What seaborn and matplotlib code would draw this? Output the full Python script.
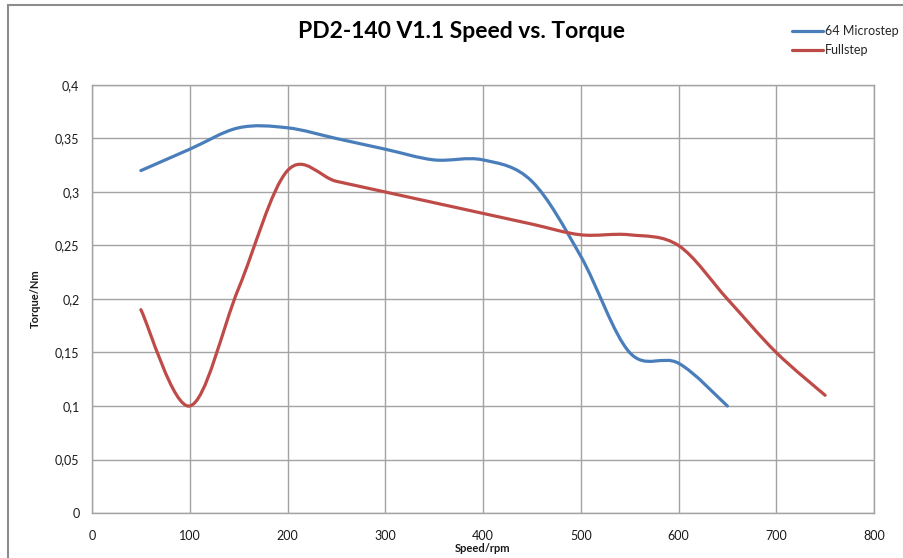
import numpy as np
import pandas as pd
import matplotlib
matplotlib.use("Agg")
import matplotlib.pyplot as plt
from matplotlib.path import Path
from matplotlib.patches import PathPatch, Rectangle
from matplotlib.ticker import FuncFormatter, MultipleLocator
import seaborn as sns

# data
micro_speed = [50, 100, 150, 200, 250, 300, 350, 400, 450, 500, 550, 600, 650]
micro_torque = [0.32, 0.34, 0.36, 0.36, 0.35, 0.34, 0.33, 0.33, 0.31, 0.24, 0.15, 0.14, 0.10]
full_speed = [50, 100, 150, 200, 250, 300, 350, 400, 450, 500, 550, 600, 650, 700, 750]
full_torque = [0.19, 0.10, 0.21, 0.32, 0.31, 0.30, 0.29, 0.28, 0.27, 0.26, 0.26, 0.25, 0.20, 0.15, 0.11]
series_names = ["64 Microstep", "Fullstep"]
series_colors = ["#4a7ebb", "#be4b48"]

title = "PD2-140 V1.1 Speed vs. Torque"
x_label = "Speed/rpm"
y_label = "Torque/Nm"


def smooth_path(xy):
    """Excel-like smoothed line: cubic bezier segments through every point."""
    pts = np.asarray(xy, dtype=float)
    n = len(pts)
    verts = [pts[0]]
    codes = [Path.MOVETO]
    for i in range(n - 1):
        p0 = pts[max(i - 1, 0)]
        p1 = pts[i]
        p2 = pts[i + 1]
        p3 = pts[min(i + 2, n - 1)]
        verts += [p1 + (p2 - p0) / 6, p2 - (p3 - p1) / 6, p2]
        codes += [Path.CURVE4] * 3
    return Path(verts, codes)


df = pd.concat([
    pd.DataFrame({"speed": micro_speed, "torque": micro_torque, "series": series_names[0]}),
    pd.DataFrame({"speed": full_speed, "torque": full_torque, "series": series_names[1]}),
], ignore_index=True)

sns.set_theme(style="whitegrid")
plt.rcParams["font.family"] = ["Lato", "DejaVu Sans"]

fig = plt.figure(figsize=(9.04, 5.58), dpi=100)
fig.patch.set_facecolor("white")
ax = fig.add_axes([92 / 904, 1 - 513 / 558, 782 / 904, 428 / 558])

sns.lineplot(data=df, x="speed", y="torque", hue="series", hue_order=series_names,
             palette=series_colors, linewidth=2.3, ax=ax, sort=False)

# swap the straight polylines for smoothed curves
for line in list(ax.lines):
    if len(line.get_xydata()) < 2:
        continue
    patch = PathPatch(smooth_path(line.get_xydata()), facecolor="none",
                      edgecolor=line.get_color(), lw=2.3, capstyle="round",
                      joinstyle="round", zorder=3)
    ax.add_patch(patch)
    line.remove()

ax.set_xlim(0, 800)
ax.set_ylim(0, 0.4)
ax.xaxis.set_major_locator(MultipleLocator(100))
ax.yaxis.set_major_locator(MultipleLocator(0.05))
ax.yaxis.set_major_formatter(FuncFormatter(lambda v, p: f"{v:.2f}".rstrip("0").rstrip(".").replace(".", ",")))

grid_col = "#a3a3a3"
ax.grid(True, color=grid_col, linewidth=1.0)
for sp in ax.spines.values():
    sp.set_color(grid_col)
    sp.set_linewidth(1.0)
ax.tick_params(axis="both", length=0, labelsize=9, colors="#1a1a1a")
ax.tick_params(axis="y", pad=9)
ax.tick_params(axis="x", pad=12)

ax.set_xlabel(x_label, fontsize=8, fontweight="bold", color="#1a1a1a")
ax.set_ylabel(y_label, fontsize=8, fontweight="bold", color="#1a1a1a")
ax.xaxis.set_label_coords(0.5, -0.070)
ax.yaxis.set_label_coords(-0.066, 0.5)

fig.text(461 / 904, 1 - 31 / 558, title, ha="center", va="center",
         fontsize=16.5, fontweight="bold", color="black")

sns.move_legend(ax, "upper left", bbox_to_anchor=((792 - 92) / 782, (513 - 25) / 428),
                frameon=False, title=None, fontsize=9, handlelength=2.5,
                handletextpad=0.15, labelspacing=0.6, borderpad=0, borderaxespad=0)
for h in ax.get_legend().legend_handles:
    h.set_linewidth(2.3)

# outer chart-area border
fig.patches.append(Rectangle((8 / 904, -0.1), 2, 1 - 5 / 558 + 0.1, transform=fig.transFigure,
                             fill=False, edgecolor="#8c8c8c", lw=1.5))

fig.savefig("out.png", dpi=100)
